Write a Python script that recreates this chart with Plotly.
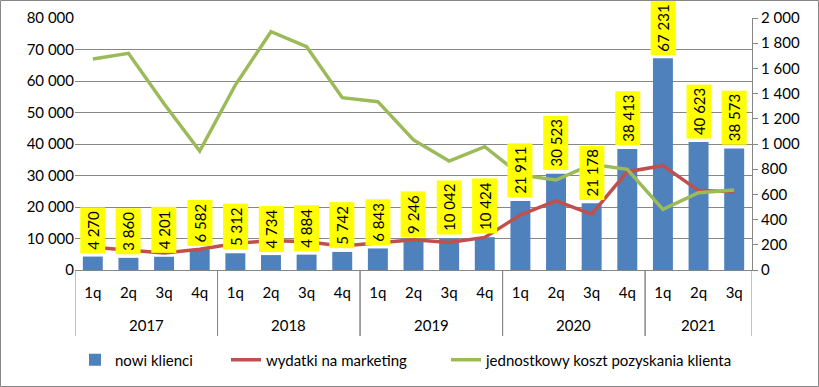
import plotly.graph_objects as go

years = ["2017"] * 4 + ["2018"] * 4 + ["2019"] * 4 + ["2020"] * 4 + ["2021"] * 3
quarters = ["1q", "2q", "3q", "4q"] * 4 + ["1q", "2q", "3q"]

nowi_klienci = [4270, 3860, 4201, 6582, 5312, 4734, 4884, 5742, 6843, 9246,
                10042, 10424, 21911, 30523, 21178, 38413, 67231, 40623, 38573]
wydatki_marketing = [180, 160, 135, 165, 210, 235, 225, 190, 214, 240,
                     218, 259, 437, 548, 444, 780, 828, 630, 622]
koszt_pozyskania = [1675, 1720, 1320, 944, 1468, 1891, 1772, 1368, 1336, 1032,
                    865, 979, 754, 714, 839, 799, 481, 614, 635]

FONT = "Lato"
GRID = "#868686"
idx = list(range(len(quarters)))

fig = go.Figure()
fig.add_trace(go.Bar(
    x=idx, y=nowi_klienci, name="nowi klienci", legend="legend",
    marker=dict(color="#4F81BD", line=dict(width=0)), width=0.56,
))
fig.add_trace(go.Scatter(
    x=idx, y=wydatki_marketing, name="wydatki na marketing", legend="legend2",
    mode="lines", line=dict(color="#C0504D", width=3.5), yaxis="y2",
))
fig.add_trace(go.Scatter(
    x=idx, y=koszt_pozyskania, name="jednostkowy koszt pozyskania klienta", legend="legend3",
    mode="lines", line=dict(color="#9BBB59", width=3.5), yaxis="y2",
))

annotations = []
for i, v in enumerate(nowi_klienci):
    annotations.append(dict(
        x=i, y=v, xref="x", yref="y", text=f"{v:,}".replace(",", " "),
        showarrow=False, textangle=-90, yanchor="bottom", xanchor="center",
        yshift=3, bgcolor="#FFFF00", borderpad=3,
        font=dict(family=FONT, size=15, color="#000000"),
    ))

# year groups: labels and dividers
shapes = []
groups = []
for i, y in enumerate(years):
    if not groups or groups[-1][0] != y:
        groups.append([y, i, i])
    else:
        groups[-1][2] = i
for y, a, b in groups:
    annotations.append(dict(
        x=(a + b) / 2, y=-55 / 252, xref="x", yref="paper", text=y, showarrow=False,
        yanchor="middle", xanchor="center", font=dict(family=FONT, size=15, color="#000000"),
    ))
    for edge in (a - 0.5, b + 0.5):
        shapes.append(dict(type="line", xref="x", yref="paper", x0=edge, x1=edge,
                           y0=0, y1=-66 / 252, line=dict(color=GRID, width=1)))

shapes.append(dict(type="rect", xref="paper", yref="paper",
                   x0=-74.5 / 677, x1=1 + 66.5 / 677, y0=-116.5 / 252, y1=1 + 17.5 / 252,
                   line=dict(color=GRID, width=1), fillcolor="rgba(0,0,0,0)", layer="below"))

leg_common = dict(orientation="h", xanchor="left", y=-0.357, yanchor="middle",
                  font=dict(family=FONT, size=15), itemwidth=30, bgcolor="rgba(0,0,0,0)")

fig.update_layout(
    width=819, height=387,
    margin=dict(l=75, r=67, t=18, b=117, autoexpand=False),
    paper_bgcolor="white", plot_bgcolor="white",
    separators=", ",
    font=dict(family=FONT, size=14, color="#000000"),
    showlegend=True,
    legend=dict(x=(75 - 75) / 677, **leg_common),
    legend2=dict(x=(226 - 75) / 677, **leg_common),
    legend3=dict(x=(446 - 75) / 677, **leg_common),
    xaxis=dict(
        range=[-0.5, len(quarters) - 0.5], tickmode="array", tickvals=idx, ticktext=quarters,
        showgrid=False, showline=True, linecolor=GRID, linewidth=1, zeroline=False,
        ticks="", ticklabelstandoff=9, tickfont=dict(family=FONT, size=15), automargin=False,
    ),
    yaxis=dict(
        range=[0, 80000], dtick=10000, showgrid=True, gridcolor=GRID, gridwidth=1,
        showline=False, ticks="", zeroline=False, separatethousands=True,
        tickformat=",d", tickfont=dict(family=FONT, size=15), automargin=False,
    ),
    yaxis2=dict(
        range=[0, 2000], dtick=200, overlaying="y", side="right", showgrid=False,
        showline=True, linecolor=GRID, ticks="outside", ticklen=5, tickcolor=GRID,
        zeroline=False, separatethousands=True, tickformat=",d",
        tickfont=dict(family=FONT, size=15), automargin=False,
    ),
    annotations=annotations,
    shapes=shapes,
)

fig.write_html("out.html", config={"displayModeBar": False},
               post_script="document.body.style.margin='0';document.body.style.padding='0';")
